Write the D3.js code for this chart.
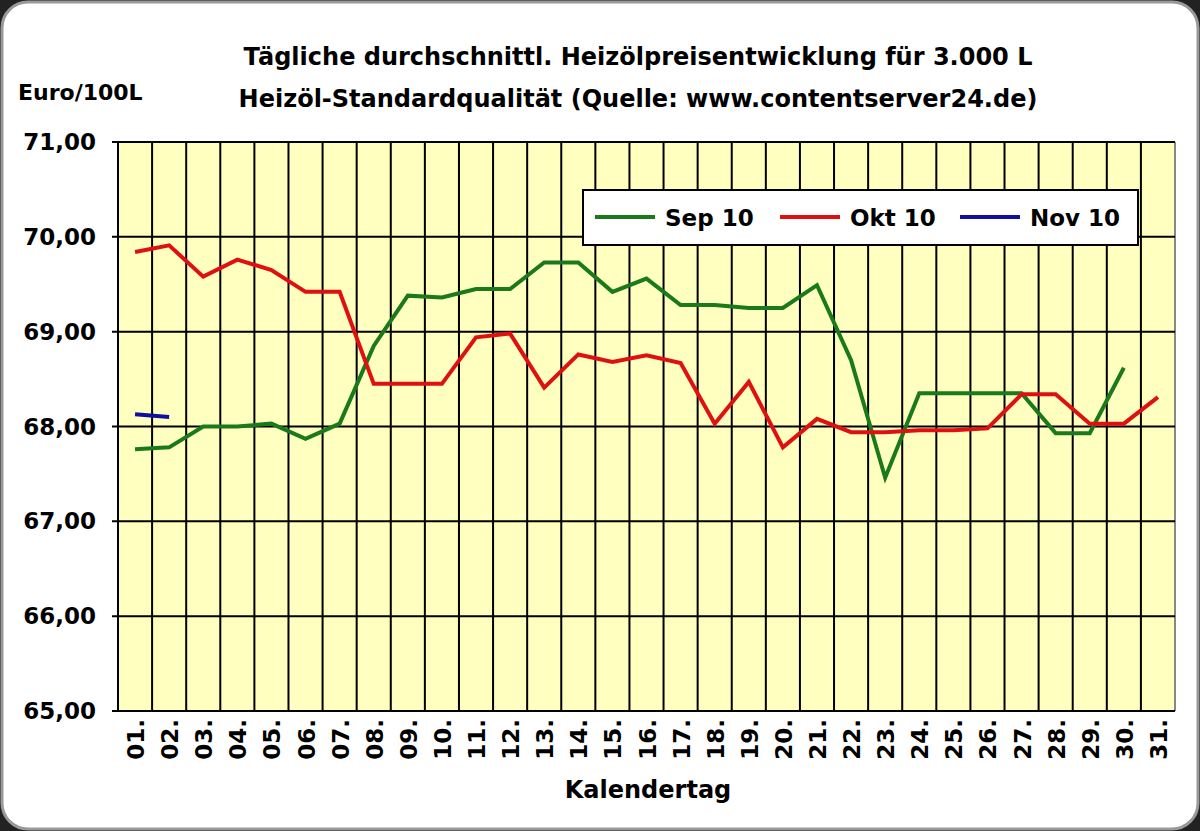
<!DOCTYPE html><html><head><meta charset="utf-8"><script src="https://cdn.jsdelivr.net/npm/d3@7"></script>
<style>body{margin:0;background:#fff}</style></head><body><svg id="c" width="1200" height="831"></svg><script>
const days=d3.range(1,32).map(d=>(d<10?"0":"")+d+".");
const yTicks=[65,66,67,68,69,70,71];
const sep=[67.76,67.78,68.0,68.0,68.03,67.87,68.03,68.85,69.38,69.36,69.45,69.45,69.73,69.73,69.42,69.56,69.28,69.28,69.25,69.25,69.49,68.7,67.46,68.35,68.35,68.35,68.35,67.93,67.93,68.62,null];
const okt=[69.84,69.91,69.58,69.76,69.65,69.42,69.42,68.45,68.45,68.45,68.94,68.98,68.41,68.76,68.68,68.75,68.67,68.03,68.47,67.78,68.08,67.94,67.94,67.96,67.96,67.98,68.34,68.34,68.03,68.03,68.31];
const nov=[68.13,68.10];
const series=[{name:"Sep 10",v:sep,c:"#1a7a1a"},{name:"Okt 10",v:okt,c:"#e01010"},{name:"Nov 10",v:nov,c:"#1010a0"}];
const svg=d3.select("#c");
svg.append("rect").attr("width",1200).attr("height",831).attr("fill","#222");
svg.append("rect").attr("x",2).attr("y",2).attr("width",1196).attr("height",827).attr("rx",26).attr("fill","#fff").attr("stroke","#999").attr("stroke-width",3);
const L=118,R=1175,T=142,B=711;
const x=d3.scaleBand().domain(days).range([L,R]);
const y=d3.scaleLinear().domain([65,71]).range([B,T]);
svg.append("rect").attr("x",L).attr("y",T).attr("width",R-L).attr("height",B-T).attr("fill","#ffffc0");
const g=svg.append("g");
days.forEach(d=>g.append("line").attr("x1",x(d)).attr("x2",x(d)).attr("y1",T).attr("y2",B).attr("stroke","#000").attr("stroke-width",2));
g.append("line").attr("x1",R).attr("x2",R).attr("y1",T).attr("y2",B).attr("stroke","#888").attr("stroke-width",2);
yTicks.forEach(t=>g.append("line").attr("x1",L-6).attr("x2",R).attr("y1",y(t)).attr("y2",y(t)).attr("stroke","#000").attr("stroke-width",2));
const f="'DejaVu Sans', sans-serif";
yTicks.forEach(t=>svg.append("text").attr("x",L-22).attr("y",y(t)+8).attr("text-anchor","end").attr("font-family",f).attr("font-weight","bold").attr("font-size",23).text(d3.format(".2f")(t).replace(".",",")));
days.forEach(d=>svg.append("text").attr("transform",`translate(${x(d)+x.bandwidth()/2+9},${B+8}) rotate(-90)`).attr("text-anchor","end").attr("font-family",f).attr("font-weight","bold").attr("font-size",23).text(d));
const line=d3.line().defined(v=>v!=null).x((v,i)=>x(days[i])+x.bandwidth()/2).y(v=>y(v));
series.forEach(s=>svg.append("path").datum(s.v).attr("d",line).attr("fill","none").attr("stroke",s.c).attr("stroke-width",4));
const t=(tx,xx,yy,sz,a)=>svg.append("text").attr("x",xx).attr("y",yy).attr("text-anchor",a||"middle").attr("font-family",f).attr("font-weight","bold").attr("font-size",sz).text(tx);
t("Tägliche durchschnittl. Heizölpreisentwicklung für 3.000 L",638,65,24);
t("Heizöl-Standardqualität (Quelle: www.contentserver24.de)",638,107,24);
t("Euro/100L",18,100,22,"start");
t("Kalendertag",648,798,24);
svg.append("rect").attr("x",583).attr("y",190).attr("width",555).attr("height",55).attr("fill","#fff").attr("stroke","#000").attr("stroke-width",2);
const lx=[595,780,960];
series.forEach((s,i)=>{svg.append("line").attr("x1",lx[i]).attr("x2",lx[i]+60).attr("y1",217).attr("y2",217).attr("stroke",s.c).attr("stroke-width",4);
t(s.name,lx[i]+70,226,23,"start");});
</script></body></html>
